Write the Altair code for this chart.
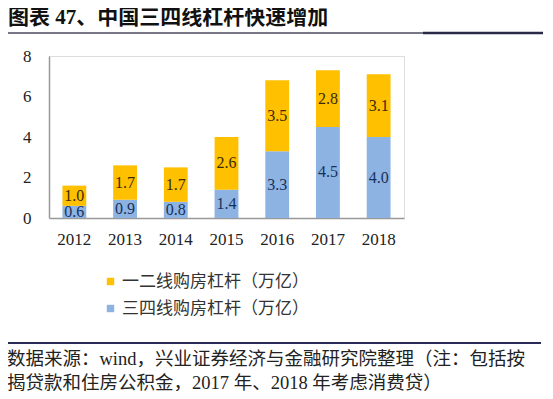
import altair as alt
import pandas as pd

years = ["2012", "2013", "2014", "2015", "2016", "2017", "2018"]
tier12 = [1.0, 1.7, 1.7, 2.6, 3.5, 2.8, 3.1]
tier34 = [0.6, 0.9, 0.8, 1.4, 3.3, 4.5, 4.0]
series_names = ["一二线购房杠杆（万亿）", "三四线购房杠杆（万亿）"]
colors = ["#FFC000", "#8DB3E2"]
title_text = "图表 47、中国三四线杠杆快速增加"
footer1 = "数据来源：wind，兴业证券经济与金融研究院整理（注：包括按"
footer2 = "揭贷款和住房公积金，2017 年、2018 年考虑消费贷）"

rows = []
for i, y in enumerate(years):
    rows.append({"year": y, "series": series_names[1], "value": tier34[i], "ord": 0,
                 "base": 0.0, "mid": tier34[i] / 2, "lc": "b"})
    rows.append({"year": y, "series": series_names[0], "value": tier12[i], "ord": 1,
                 "base": tier34[i], "mid": tier34[i] + tier12[i] / 2, "lc": "y"})
df = pd.DataFrame(rows)
df["label"] = df["value"].map(lambda v: f"{v:.1f}")

W, H = 355, 162
serif = "Liberation Serif"
cjk = "Noto Sans CJK SC"
mixed = "Liberation Serif, Noto Sans CJK SC"

xenc = alt.X("year:N", sort=years, title=None,
             scale=alt.Scale(paddingInner=0.53, paddingOuter=0.265),
             axis=alt.Axis(labelAngle=0, labelFont=serif, labelFontSize=17,
                           labelColor="#222", ticks=False, labelPadding=13,
                           domainColor="#999", domainWidth=1.5))
yscale = alt.Scale(domain=[0, 8])

bars = alt.Chart(df).mark_bar().encode(
    x=xenc,
    y=alt.Y("base:Q", scale=yscale, title=None,
            axis=alt.Axis(values=[0, 2, 4, 6, 8], grid=False, ticks=False,
                          labelFont=serif, labelFontSize=17, labelColor="#222",
                          labelPadding=18, domainColor="#999", domainWidth=1.5)),
    y2=alt.Y2("top:Q"),
    color=alt.Color("series:N", sort=series_names,
                    scale=alt.Scale(domain=series_names, range=colors),
                    legend=alt.Legend(title=None, orient="none", legendX=53, legendY=217,
                                      direction="vertical", symbolType="square",
                                      symbolSize=55, symbolStrokeWidth=0,
                                      labelFont=cjk, labelFontSize=17, labelColor="#333",
                                      labelLimit=0, rowPadding=9, labelOffset=3)),
).transform_calculate(top="datum.base + datum.value")

labels = alt.Chart(df).mark_text(font=serif, fontSize=16, baseline="middle").encode(
    x=alt.X("year:N", sort=years),
    y=alt.Y("mid:Q", scale=yscale),
    text="label:N",
    color=alt.Color("lc:N", scale=alt.Scale(domain=["b", "y"], range=["#17305A", "#3A2A05"]),
                    legend=None),
)

deco = pd.DataFrame({"k": [0]})
title = alt.Chart(deco).mark_text(text=title_text, font=mixed, fontSize=21, fontWeight="bold",
                                  align="left", baseline="middle", color="#111").encode(
    x=alt.value(-41), y=alt.value(-38))
rule_top = alt.Chart(deco).mark_rule(color="#4a4a60", strokeWidth=1.6).encode(
    x=alt.value(-44), x2=alt.value(494), y=alt.value(-23))
rule_top2 = alt.Chart(deco).mark_rule(color="#2a2a48", strokeWidth=2.5).encode(
    x=alt.value(374), x2=alt.value(494), y=alt.value(-23))
rule_bot = alt.Chart(deco).mark_rule(color="#2b2b5a", strokeWidth=2).encode(
    x=alt.value(-49), x2=alt.value(492), y=alt.value(287))
f1 = alt.Chart(deco).mark_text(text=footer1, font=mixed, fontSize=18.5, align="left",
                               baseline="middle", color="#222").encode(
    x=alt.value(-42), y=alt.value(303))
f2 = alt.Chart(deco).mark_text(text=footer2, font=mixed, fontSize=18.5, align="left",
                               baseline="middle", color="#222").encode(
    x=alt.value(-42), y=alt.value(327))

chart = alt.layer(bars, labels, title, rule_top, rule_top2, rule_bot, f1, f2).resolve_scale(
    color="independent"
).properties(
    width=W, height=H,
    autosize=alt.AutoSizeParams(type="none"),
    padding={"left": 41, "top": 48, "right": 141, "bottom": 173},
).configure_view(stroke=None).configure(background="white")

chart.save("out.html", embed_options={"renderer": "svg", "actions": False})
